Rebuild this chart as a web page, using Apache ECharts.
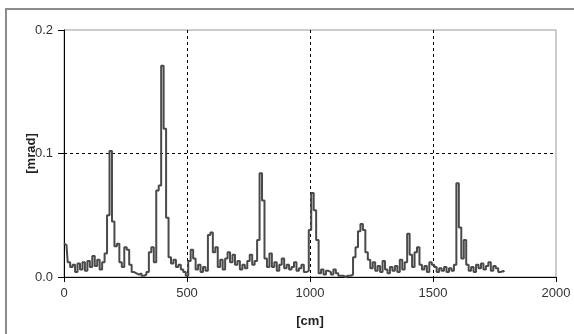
<!DOCTYPE html>
<html>
<head>
<meta charset="utf-8">
<script src="https://cdn.jsdelivr.net/npm/echarts@6/dist/echarts.min.js"></script>
<style>
  html, body { margin: 0; padding: 0; background: #fff; }
  #chart { width: 574px; height: 334px; }
</style>
</head>
<body>
<div id="chart"></div>
<script>
// position along the sample [cm], one reading every 10 cm
const positionsCm = [
  0, 10, 20, 30, 40, 50, 60, 70, 80, 90,
  100, 110, 120, 130, 140, 150, 160, 170, 180, 190,
  200, 210, 220, 230, 240, 250, 260, 270, 280, 290,
  300, 310, 320, 330, 340, 350, 360, 370, 380, 390,
  400, 410, 420, 430, 440, 450, 460, 470, 480, 490,
  500, 510, 520, 530, 540, 550, 560, 570, 580, 590,
  600, 610, 620, 630, 640, 650, 660, 670, 680, 690,
  700, 710, 720, 730, 740, 750, 760, 770, 780, 790,
  800, 810, 820, 830, 840, 850, 860, 870, 880, 890,
  900, 910, 920, 930, 940, 950, 960, 970, 980, 990,
  1000, 1010, 1020, 1030, 1040, 1050, 1060, 1070, 1080, 1090,
  1100, 1110, 1120, 1130, 1140, 1150, 1160, 1170, 1180, 1190,
  1200, 1210, 1220, 1230, 1240, 1250, 1260, 1270, 1280, 1290,
  1300, 1310, 1320, 1330, 1340, 1350, 1360, 1370, 1380, 1390,
  1400, 1410, 1420, 1430, 1440, 1450, 1460, 1470, 1480, 1490,
  1500, 1510, 1520, 1530, 1540, 1550, 1560, 1570, 1580, 1590,
  1600, 1610, 1620, 1630, 1640, 1650, 1660, 1670, 1680, 1690,
  1700, 1710, 1720, 1730, 1740, 1750, 1760, 1770, 1780, 1790
];

// measured deviation [mrad]
const deviationMrad = [
  0.027, 0.026, 0.012, 0.008, 0.010, 0.004, 0.011, 0.006, 0.012, 0.005,
  0.013, 0.008, 0.017, 0.009, 0.014, 0.006, 0.012, 0.019, 0.050, 0.102,
  0.045, 0.025, 0.027, 0.012, 0.008, 0.024, 0.022, 0.010, 0.004, 0.003,
  0.002, 0.003, 0.001, 0.002, 0.004, 0.020, 0.024, 0.012, 0.070, 0.074,
  0.171, 0.120, 0.048, 0.016, 0.011, 0.014, 0.008, 0.010, 0.006, 0.004,
  0.001, 0.013, 0.022, 0.015, 0.006, 0.010, 0.004, 0.008, 0.005, 0.034,
  0.036, 0.020, 0.024, 0.008, 0.014, 0.006, 0.015, 0.020, 0.012, 0.018,
  0.010, 0.013, 0.006, 0.010, 0.007, 0.013, 0.018, 0.010, 0.013, 0.030,
  0.084, 0.062, 0.015, 0.008, 0.019, 0.008, 0.012, 0.005, 0.010, 0.015,
  0.007, 0.010, 0.006, 0.008, 0.012, 0.005, 0.007, 0.010, 0.004, 0.005,
  0.038, 0.068, 0.054, 0.030, 0.003, 0.006, 0.002, 0.005, 0.004, 0.002,
  0.006, 0.003, 0.001, 0.001, 0.000, 0.001, 0.001, 0.002, 0.016, 0.024,
  0.037, 0.043, 0.038, 0.020, 0.014, 0.007, 0.012, 0.005, 0.009, 0.004,
  0.013, 0.006, 0.003, 0.008, 0.005, 0.009, 0.004, 0.014, 0.006, 0.012,
  0.035, 0.018, 0.008, 0.020, 0.024, 0.010, 0.006, 0.009, 0.004, 0.012,
  0.010, 0.008, 0.004, 0.007, 0.005, 0.008, 0.004, 0.007, 0.005, 0.010,
  0.076, 0.040, 0.015, 0.030, 0.010, 0.005, 0.008, 0.004, 0.010, 0.007,
  0.011, 0.006, 0.009, 0.012, 0.005, 0.009, 0.007, 0.004, 0.005, 0.004
];

const chart = echarts.init(document.getElementById("chart"));

const labelFont = { fontFamily: "Liberation Sans, Arial", fontSize: 13, color: "#333" };
const nameFont = { fontFamily: "Liberation Sans, Arial", fontSize: 13, fontWeight: "bold", color: "#222" };

chart.setOption({
  animation: false,
  backgroundColor: "#fff",
  graphic: [
    {
      type: "polyline",
      shape: { points: [[6, 334], [6, 9], [574, 9]] },
      style: { stroke: "#8c8c8c", lineWidth: 2, fill: null }
    }
  ],
  grid: {
    left: 64, right: 18, top: 30, bottom: 57,
    show: true, borderColor: "#999", borderWidth: 1
  },
  xAxis: {
    type: "value",
    min: 0, max: 2000, interval: 500,
    name: "[cm]",
    nameLocation: "middle",
    nameGap: 38,
    nameTextStyle: nameFont,
    axisLine: { lineStyle: { color: "#000", width: 1 } },
    axisTick: { length: 5, lineStyle: { color: "#000" } },
    axisLabel: Object.assign({ margin: 10, formatter: v => String(v) }, labelFont),
    splitLine: { showMinLine: false, showMaxLine: false, lineStyle: { color: "#000", type: [3, 3], width: 1 } }
  },
  yAxis: {
    type: "value",
    min: 0, max: 0.2, interval: 0.1,
    name: "[mrad]",
    nameLocation: "middle",
    nameGap: 26,
    nameMoveOverlap: false,
    nameRotate: 90,
    nameTextStyle: nameFont,
    axisLine: { show: true, lineStyle: { color: "#000", width: 1 } },
    axisTick: { show: true, length: 6, lineStyle: { color: "#000" } },
    axisLabel: Object.assign({ margin: 11, formatter: v => v.toFixed(1) }, labelFont),
    splitLine: { showMinLine: false, showMaxLine: false, lineStyle: { color: "#000", type: [3, 3], width: 1 } }
  },
  series: [
    {
      type: "line",
      step: "middle",
      data: positionsCm.map((x, i) => [x, deviationMrad[i]]),
      showSymbol: false,
      lineStyle: { color: "#4a4a4a", width: 2 },
      z: 3
    }
  ]
});
</script>
</body>
</html>
